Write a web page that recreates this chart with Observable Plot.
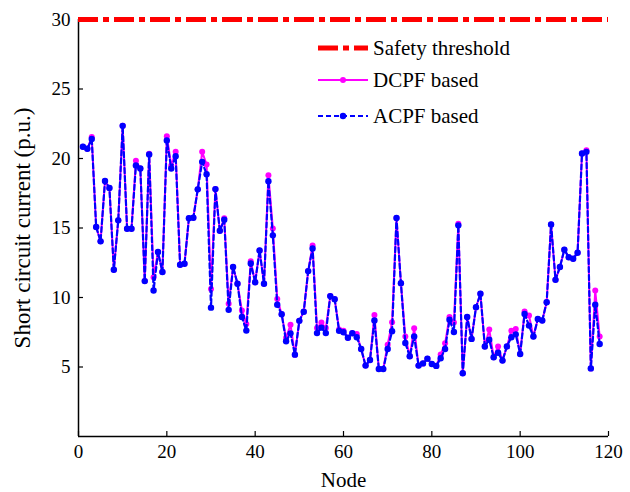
<!DOCTYPE html>
<html>
<head>
<meta charset="utf-8">
<script src="https://cdn.jsdelivr.net/npm/d3@7"></script>
<script src="https://cdn.jsdelivr.net/npm/@observablehq/plot@0.6"></script>
<style>
  html, body { margin: 0; padding: 0; background: #fff; }
  #chart svg { display: block; }
  #chart svg text { font-family: "Liberation Serif", "Times New Roman", serif !important; }
</style>
</head>
<body>
<div id="chart"></div>
<script>
const threshold = 30;
const xTicks = [0, 20, 40, 60, 80, 100, 120];
const yTicks = [5, 10, 15, 20, 25, 30];
const seriesNames = ["Safety threshold", "DCPF based", "ACPF based"];
const xLabel = "Node";
const yLabel = "Short circuit current (p.u.)";

const acpf = [20.85,20.7,21.4,15.07,14.04,18.39,17.88,12.0,15.55,22.35,
14.95,14.95,19.5,19.28,11.18,20.29,10.5,13.27,11.83,21.3,
19.28,20.17,12.36,12.43,15.7,15.74,17.78,19.76,18.87,9.27,
17.8,14.8,15.6,9.11,12.19,10.99,8.6,7.62,12.45,11.1,
13.39,10.99,18.37,14.47,9.48,8.8,6.85,7.42,5.89,8.32,
8.98,11.9,13.53,7.44,7.83,7.44,10.1,9.88,7.6,7.5,
7.1,7.43,7.14,6.3,5.1,5.5,8.34,4.86,4.86,6.3,
7.57,15.72,11.03,6.73,5.77,7.19,5.1,5.26,5.6,5.22,
5.08,5.63,6.3,8.4,7.52,15.19,4.55,8.6,7.02,9.3,
10.27,6.48,6.96,5.7,6.03,5.46,6.48,7.14,7.35,5.94,
8.82,7.98,7.19,8.46,8.34,9.66,15.26,11.27,12.19,13.44,
12.9,12.79,13.22,20.36,20.48,4.9,9.48,6.66];

const dcpf = [20.85,20.7,21.55,15.07,14.04,18.39,17.88,12.0,15.55,22.35,
14.95,14.95,19.83,19.28,11.18,20.35,11.46,13.27,11.83,21.6,
19.5,20.48,12.36,12.43,15.7,15.74,17.78,20.48,19.57,10.62,
17.8,14.8,15.7,9.55,12.19,10.99,9.06,8.1,12.6,11.1,
13.39,10.99,18.8,14.97,9.9,8.8,7.1,8.04,5.89,8.32,
8.98,11.9,13.75,7.8,8.2,7.8,10.1,9.88,7.7,7.6,
7.1,7.43,7.38,6.3,5.1,5.5,8.75,4.86,4.86,6.6,
8.22,15.72,11.03,7.19,5.77,7.79,5.1,5.26,5.6,5.22,
5.08,5.9,6.7,8.6,8.2,15.3,4.55,8.6,7.02,9.3,
10.27,6.48,7.7,5.7,6.48,5.46,6.48,7.6,7.74,5.94,
9.0,8.7,7.19,8.46,8.34,9.66,15.26,11.27,12.19,13.44,
12.9,12.79,13.22,20.36,20.6,4.9,10.5,7.19];

const dcData = dcpf.map((v, i) => ({node: i + 1, value: v}));
const acData = acpf.map((v, i) => ({node: i + 1, value: v}));

const W = 630, H = 492;
const mL = 78, mR = 22, mT = 19, mB = 56;
const plotW = W - mL - mR, plotH = H - mT - mB;
const font = "Liberation Serif, Times New Roman, serif";

const chart = Plot.plot({
  width: W,
  height: H,
  marginLeft: mL,
  marginRight: mR,
  marginTop: mT,
  marginBottom: mB,
  style: {fontFamily: font, fontSize: "19px", color: "#000", background: "#fff", overflow: "visible"},
  x: {domain: [0, 120]},
  y: {domain: [0, 30]},
  marks: [
    Plot.ruleX([0], {stroke: "#000", strokeWidth: 1.5}),
    Plot.ruleY([0], {stroke: "#000", strokeWidth: 1.5}),
    Plot.ruleX(xTicks, {x: d => d, stroke: "#000", strokeWidth: 1.2, insetTop: plotH - 5}),
    Plot.ruleY(yTicks, {y: d => d, stroke: "#000", strokeWidth: 1.2, insetRight: plotW - 5}),
    Plot.axisX({ticks: xTicks, tickSize: 0, tickPadding: 8, tickFormat: d => String(d), label: null, fontSize: 19}),
    Plot.axisY({ticks: yTicks, tickSize: 0, tickPadding: 8, tickFormat: d => String(d), label: null, fontSize: 19}),
    Plot.ruleY([threshold], {stroke: "#ff0000", strokeWidth: 5, strokeDasharray: "20,5,6,5"}),
    Plot.line(dcData, {x: "node", y: "value", stroke: "#ff00ff", strokeWidth: 2}),
    Plot.dot(dcData, {x: "node", y: "value", r: 3, fill: "#ff00ff", stroke: "none"}),
    Plot.line(acData, {x: "node", y: "value", stroke: "#0000ff", strokeWidth: 2.2, strokeDasharray: "5,3"}),
    Plot.dot(acData, {x: "node", y: "value", r: 3.2, fill: "#0000ff", stroke: "none"}),
    Plot.text([yLabel], {frameAnchor: "left", textAnchor: "middle", lineAnchor: "middle", text: d => d, rotate: -90, dx: -56, fontSize: 23, fill: "#000"}),
    Plot.text([xLabel], {frameAnchor: "bottom", textAnchor: "middle", lineAnchor: "middle", text: d => d, dy: 44, fontSize: 21, fill: "#000"})
  ]
});

document.getElementById("chart").appendChild(chart);

// Legend inside the plot area, top right
const svg = d3.select(chart);
const lg = svg.append("g").attr("font-family", font).attr("font-size", 21).attr("text-anchor", "start");
const legendItems = [
  {name: seriesNames[0], color: "#ff0000", width: 5, dash: "20,5,6,5", dot: false, y: 48},
  {name: seriesNames[1], color: "#ff00ff", width: 2, dash: null, dot: true, r: 3, y: 80},
  {name: seriesNames[2], color: "#0000ff", width: 2.2, dash: "5,3", dot: true, r: 3.2, y: 116}
];
const lx0 = 318, lx1 = 368;
legendItems.forEach(it => {
  const l = lg.append("line").attr("x1", lx0).attr("x2", lx1).attr("y1", it.y).attr("y2", it.y)
    .attr("stroke", it.color).attr("stroke-width", it.width);
  if (it.dash) l.attr("stroke-dasharray", it.dash);
  if (it.dot) lg.append("circle").attr("cx", (lx0 + lx1) / 2).attr("cy", it.y).attr("r", it.r).attr("fill", it.color);
  lg.append("text").attr("x", lx1 + 5).attr("y", it.y).attr("dy", "0.33em").attr("fill", "#000")
    .attr("text-anchor", "start").text(it.name);
});
</script>
</body>
</html>
